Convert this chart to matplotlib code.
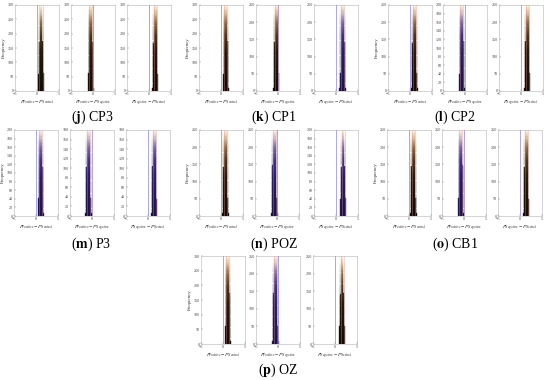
import numpy as np
import matplotlib
matplotlib.use("Agg")
import matplotlib.pyplot as plt
from matplotlib.colors import LinearSegmentedColormap

plt.rcParams['font.family'] = ['Liberation Serif', 'DejaVu Serif']
plt.rcParams['mathtext.fontset'] = 'stix'

# ---------------- data ----------------
group_letters = ['j', 'k', 'l', 'm', 'n', 'o', 'p']
group_names = ['CP3', 'CP1', 'CP2', 'P3', 'POZ', 'CB1', 'OZ']
comparisons = [('Positive', 'Neutral'), ('Positive', 'Negative'), ('Negative', 'Neutral')]
x_ticks = [-5, 0, 5]

# y-axis upper limit and tick step for each panel (3 per group)
y_tops = {
    'j': [300, 300, 300], 'k': [300, 250, 250], 'l': [250, 200, 250],
    'm': [200, 180, 180], 'n': [250, 250, 200], 'o': [250, 250, 250],
    'p': [300, 250, 250]}
y_steps = {
    'j': [50, 50, 50], 'k': [50, 50, 50], 'l': [50, 20, 50],
    'm': [20, 20, 20], 'n': [50, 50, 20], 'o': [50, 50, 50],
    'p': [50, 50, 50]}
# centre of each difference distribution
centers = {
    'j': [0.9, -0.5, 1.4], 'k': [1.1, -0.4, 1.5], 'l': [1.0, -0.7, 1.4],
    'm': [1.1, -0.8, 1.4], 'n': [1.0, -0.6, 1.6], 'o': [1.0, -0.7, 1.4],
    'p': [1.1, -0.6, 1.6]}
# colour scheme: 'c' copper-like, 'p' purple-like
schemes = {
    'j': ['c', 'c', 'c'], 'k': ['c', 'c', 'p'], 'l': ['c', 'p', 'c'],
    'm': ['p', 'p', 'p'], 'n': ['c', 'p', 'p'], 'o': ['c', 'p', 'c'],
    'p': ['c', 'p', 'c']}
bin_width = 0.13
ci_half = 0.35
counts = {
    'j': [[10, 60, 170, 300, 390, 430, 395, 305, 175, 62, 11],
          [11, 63, 175, 306, 398, 436, 392, 300, 170, 58, 9],
          [9, 57, 166, 296, 386, 424, 390, 302, 172, 60, 10]],
    'k': [[10, 61, 172, 303, 394, 433, 396, 304, 173, 61, 10],
          [8, 50, 142, 250, 325, 358, 330, 254, 146, 52, 9],
          [9, 52, 145, 254, 330, 362, 328, 250, 141, 49, 8]],
    'l': [[8, 49, 140, 248, 323, 355, 327, 252, 144, 51, 9],
          [7, 40, 113, 200, 260, 287, 263, 203, 117, 41, 7],
          [9, 51, 146, 255, 328, 360, 332, 256, 147, 53, 9]],
    'm': [[7, 41, 116, 204, 264, 290, 262, 201, 114, 40, 7],
          [6, 36, 102, 180, 234, 258, 237, 183, 105, 37, 7],
          [7, 37, 104, 182, 236, 260, 235, 180, 102, 36, 6]],
    'n': [[8, 50, 143, 251, 326, 357, 329, 253, 145, 51, 9],
          [9, 53, 147, 256, 331, 363, 333, 255, 146, 52, 8],
          [7, 40, 114, 201, 262, 289, 262, 202, 116, 41, 7]],
    'o': [[8, 51, 144, 252, 327, 359, 331, 254, 146, 52, 9],
          [9, 52, 148, 257, 333, 365, 334, 256, 147, 52, 9],
          [8, 49, 141, 249, 324, 356, 328, 251, 143, 50, 8]],
    'p': [[10, 62, 173, 304, 396, 435, 397, 306, 174, 62, 11],
          [8, 51, 144, 252, 327, 359, 330, 253, 145, 51, 9],
          [9, 50, 143, 251, 326, 358, 329, 252, 144, 50, 8]]}

# ---------------- layout (pixels) ----------------
W, H = 550, 380
col_lefts = {
    'j': [15, 71, 127], 'k': [199, 256, 314], 'l': [388, 443, 499],
    'm': [14, 70, 126], 'n': [199, 255, 314], 'o': [387, 442, 498],
    'p': [201, 256, 313]}
ax_w = 44
row_of = {'j': 0, 'k': 0, 'l': 0, 'm': 1, 'n': 1, 'o': 1, 'p': 2}
row_tb = [(5, 91), (130, 216), (256, 344)]
label_y = [117, 244, 370]
label_x = {'j': 92, 'k': 274, 'l': 455, 'm': 91, 'n': 274, 'o': 455, 'p': 278}
n_bands = 40

cmaps = {
    'c': LinearSegmentedColormap.from_list(
        'cop', [(0.0, '#120b04'), (0.45, '#26190b'), (0.65, '#4d371b'),
                (0.8, '#8f6f47'), (0.92, '#dec6a2'), (1.0, '#fff6e6')]),
    'p': LinearSegmentedColormap.from_list(
        'pur', [(0.0, '#1c1347'), (0.45, '#281e66'), (0.65, '#403384'),
                (0.8, '#7a6ba3'), (0.92, '#d2c5c8'), (1.0, '#fff7e6')])}

fig = plt.figure(figsize=(W / 100, H / 100), dpi=100)

for g, name in zip(group_letters, group_names):
    r = row_of[g]
    top, bot = row_tb[r]
    for i in range(3):
        left = col_lefts[g][i]
        ax = fig.add_axes([left / W, 1 - bot / H, ax_w / W, (bot - top) / H])
        ytop = y_tops[g][i]
        c0 = centers[g][i]
        cnt = np.array(counts[g][i], dtype=float)
        n = len(cnt)
        edges = c0 + (np.arange(n + 1) - n / 2) * bin_width
        cmap = cmaps[schemes[g][i]]
        levels = np.linspace(0, ytop, n_bands + 1)
        for k in range(n_bands):
            lo, hi = levels[k], levels[k + 1]
            vals = np.clip(cnt, lo, hi)
            col = cmap((k + 0.5) / n_bands)
            ax.stairs(vals, edges, baseline=lo, fill=True, facecolor=col,
                      edgecolor=col, linewidth=0.25, zorder=2)
        # reference line at zero and confidence bounds
        ax.axvline(0, color='#978cf0', lw=0.7, alpha=0.8, zorder=4)
        ax.axvline(c0 - ci_half, color='#f29090', lw=0.45, alpha=0.55, zorder=4)
        ax.axvline(c0 + ci_half, color='#f29090', lw=0.45, alpha=0.55, zorder=4)
        ax.set_xlim(-5, 5)
        ax.set_ylim(0, ytop)
        ax.set_xticks(x_ticks)
        ax.set_yticks(np.arange(0, ytop + 1, y_steps[g][i]))
        ax.tick_params(labelsize=3, length=1.2, width=0.3, pad=1,
                       direction='in', colors='#777777', labelcolor='#444444')
        for s in ax.spines.values():
            s.set_color('#b5b5b5')
            s.set_linewidth(0.4)
        a, b = comparisons[i]
        ax.set_xlabel(r'$P_{\mathrm{%s}}-P_{\mathrm{%s}}$' % (a, b),
                      fontsize=3.5, labelpad=1.5, color='#333333')
        if i == 0:
            ax.set_ylabel('Frequency', fontsize=3.5, labelpad=1, color='#333333')
    fig.text(label_x[g] / W, 1 - label_y[r] / H, r'($\mathbf{%s}$) %s' % (g, name),
             ha='center', va='center', fontsize=10)

fig.savefig('out.png', dpi=100)
